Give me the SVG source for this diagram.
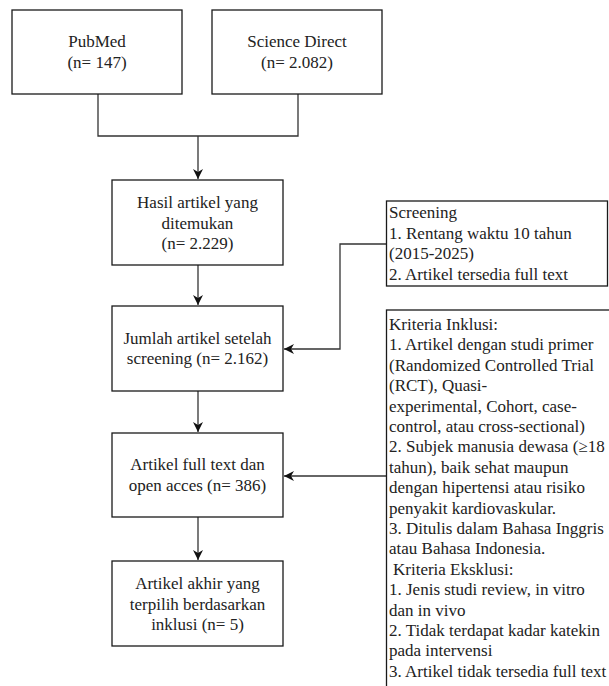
<svg xmlns="http://www.w3.org/2000/svg" width="609" height="686" viewBox="0 0 609 686">
<style>
.box{fill:#fff;stroke:#1a1a1a;stroke-width:1.3}
.t{font-family:'Liberation Serif','Times New Roman',Tinos,'DejaVu Serif',serif;font-size:17px;fill:#222}
.c{text-anchor:middle}
.ln{fill:none;stroke:#333;stroke-width:1.3}
</style>
<defs>
<marker id="arr" viewBox="0 0 10 10" refX="10" refY="5" markerWidth="10" markerHeight="10" markerUnits="userSpaceOnUse" orient="auto">
<path d="M0,0 L10,5 L0,10 L3,5 Z" fill="#111"/>
</marker>
</defs>
<rect width="609" height="686" fill="#fff"/>
<g id="connectors">
<polyline class="ln" points="98,94 98,136 298,136 298,94"/>
<line class="ln" x1="198" y1="136" x2="198" y2="179" marker-end="url(#arr)"/>
<line class="ln" x1="198" y1="265" x2="198" y2="305" marker-end="url(#arr)"/>
<line class="ln" x1="198" y1="391" x2="198" y2="432" marker-end="url(#arr)"/>
<line class="ln" x1="198" y1="517" x2="198" y2="560" marker-end="url(#arr)"/>
<polyline class="ln" points="386.5,244 340,244 340,349 284,349" marker-end="url(#arr)"/>
<line class="ln" x1="386.5" y1="476" x2="284" y2="476" marker-end="url(#arr)"/>
</g>
<g id="pubmed">
<rect class="box" x="12" y="10" width="170" height="84"/>
<text class="t c" x="97" y="47" font-family="Liberation Serif, serif">PubMed</text>
<text class="t c" x="97" y="68">(n= 147)</text>
</g>
<g id="sciencedirect">
<rect class="box" x="212" y="10" width="170" height="84"/>
<text class="t c" x="297" y="47">Science Direct</text>
<text class="t c" x="297" y="68">(n= 2.082)</text>
</g>
<g id="hasil">
<rect class="box" x="112" y="180" width="171" height="85"/>
<text class="t c" x="197.5" y="208">Hasil artikel yang</text>
<text class="t c" x="197.5" y="228.5">ditemukan</text>
<text class="t c" x="197.5" y="249">(n= 2.229)</text>
</g>
<g id="jumlah">
<rect class="box" x="112" y="306" width="171" height="85"/>
<text class="t c" x="197.5" y="343.5">Jumlah artikel setelah</text>
<text class="t c" x="197.5" y="364">screening (n= 2.162)</text>
</g>
<g id="fulltext">
<rect class="box" x="112" y="433" width="171" height="84"/>
<text class="t c" x="197.5" y="470">Artikel full text dan</text>
<text class="t c" x="197.5" y="491">open acces (n= 386)</text>
</g>
<g id="akhir">
<rect class="box" x="112" y="561" width="171" height="85"/>
<text class="t c" x="197.5" y="589">Artikel akhir yang</text>
<text class="t c" x="197.5" y="609.5">terpilih berdasarkan</text>
<text class="t c" x="197.5" y="630">inklusi (n= 5)</text>
</g>
<g id="screening">
<rect class="box" x="386.5" y="201" width="221" height="85"/>
<text class="t" x="389" y="218">Screening</text>
<text class="t" x="389" y="238.5">1. Rentang waktu 10 tahun</text>
<text class="t" x="389" y="259">(2015-2025)</text>
<text class="t" x="389" y="279.5">2. Artikel tersedia full text</text>
</g>
<g id="kriteria">
<rect class="box" x="386.5" y="310" width="230" height="390"/>
<text class="t" x="389" y="330">Kriteria Inklusi:</text>
<text class="t" x="389" y="350.4">1. Artikel dengan studi primer</text>
<text class="t" x="389" y="370.8">(Randomized Controlled Trial</text>
<text class="t" x="389" y="391.2">(RCT), Quasi-</text>
<text class="t" x="389" y="411.6">experimental, Cohort, case-</text>
<text class="t" x="389" y="432">control, atau cross-sectional)</text>
<text class="t" x="389" y="452.4">2. Subjek manusia dewasa (≥18</text>
<text class="t" x="389" y="472.8">tahun), baik sehat maupun</text>
<text class="t" x="389" y="493.2">dengan hipertensi atau risiko</text>
<text class="t" x="389" y="513.6">penyakit kardiovaskular.</text>
<text class="t" x="389" y="534">3. Ditulis dalam Bahasa Inggris</text>
<text class="t" x="389" y="554.4">atau Bahasa Indonesia.</text>
<text class="t" x="393" y="574.8">Kriteria Eksklusi:</text>
<text class="t" x="389" y="595.2">1. Jenis studi review, in vitro</text>
<text class="t" x="389" y="615.6">dan in vivo</text>
<text class="t" x="389" y="636">2. Tidak terdapat kadar katekin</text>
<text class="t" x="389" y="656.4">pada intervensi</text>
<text class="t" x="389" y="676.8">3. Artikel tidak tersedia full text</text>
</g>
</svg>
